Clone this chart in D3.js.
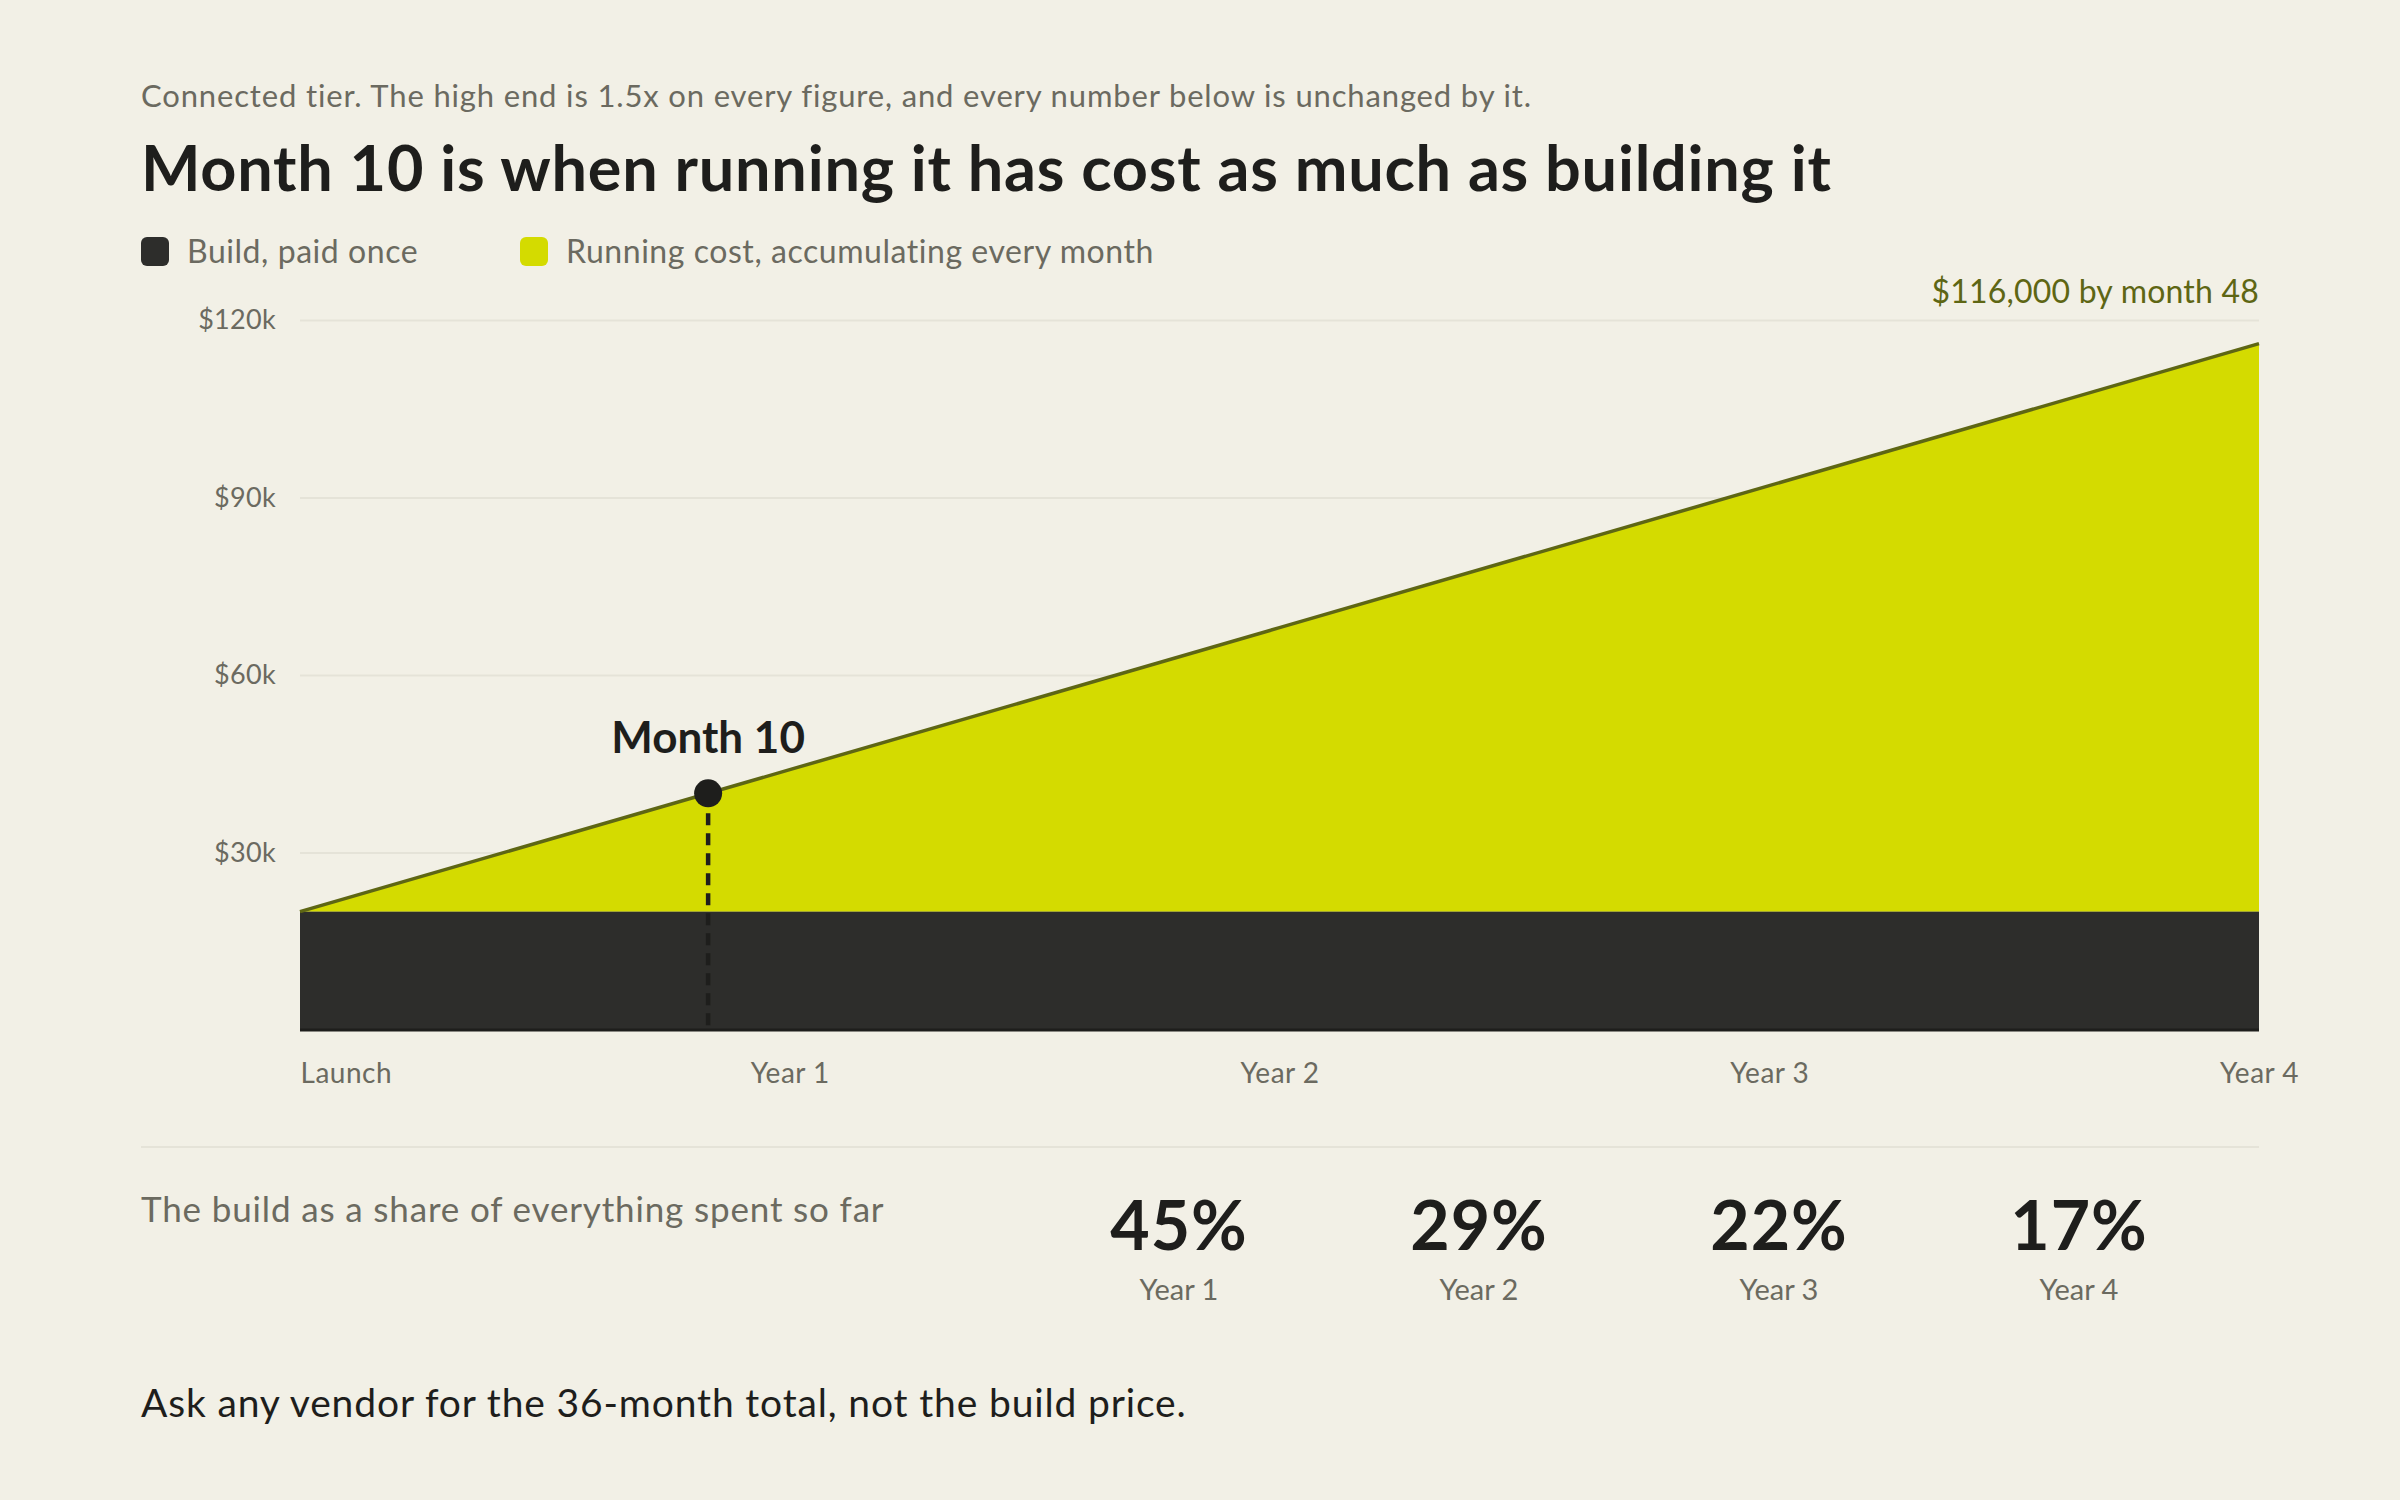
<!DOCTYPE html>
<html>
<head>
<meta charset="utf-8">
<script src="https://cdn.jsdelivr.net/npm/d3@7"></script>
<style>
  html, body { margin: 0; padding: 0; background: #f2f0e6; }
  svg { display: block; font-family: "Lato", "Noto Sans", sans-serif; }
</style>
</head>
<body>
<div id="chart"></div>
<script>
// Datos
const buildCost = 20000;
const months = [0, 12, 24, 36, 48];
const totalSpent = [20000, 44000, 68000, 92000, 116000];
const xTickLabels = ["Launch", "Year 1", "Year 2", "Year 3", "Year 4"];
const yTicks = [30000, 60000, 90000, 120000];
const crossMonth = 10, crossValue = 40000;
const shareYears = ["Year 1", "Year 2", "Year 3", "Year 4"];
const shareValues = [45, 29, 22, 17];

const width = 2400, height = 1500;
const plotLeft = 300, plotRight = 2259, plotTop = 320, plotBottom = 1030;
const textLeft = 141;

const C = {
  bg: "#f2f0e6",
  dark: "#2d2d2b",
  lime: "#d4db00",
  olive: "#5e6614",
  ink: "#1e1e1c",
  grey: "#6b6a60",
  grid: "#e5e3d8",
};

const svg = d3.select("#chart").append("svg")
  .attr("width", width).attr("height", height)
  .attr("viewBox", `0 0 ${width} ${height}`)
  .style("background", C.bg);

const x = d3.scaleLinear().domain([0, 48]).range([plotLeft, plotRight]);
const y = d3.scaleLinear().domain([0, 120000]).range([plotBottom, plotTop]);

// Textos de cabecera
svg.append("text").attr("x", textLeft).attr("y", 107)
  .attr("font-size", 31).attr("letter-spacing", 0.85).attr("fill", C.grey)
  .text("Connected tier. The high end is 1.5x on every figure, and every number below is unchanged by it.");

svg.append("text").attr("x", textLeft).attr("y", 191)
  .attr("font-size", 63).attr("letter-spacing", 0.75).attr("font-weight", 700).attr("fill", C.ink)
  .text("Month 10 is when running it has cost as much as building it");

// Leyenda
const legend = [
  { label: "Build, paid once", color: C.dark, x: textLeft },
  { label: "Running cost, accumulating every month", color: C.lime, x: 520 },
];
const lg = svg.append("g").selectAll("g").data(legend).enter().append("g")
  .attr("transform", (d) => `translate(${d.x},237)`);
lg.append("rect").attr("width", 28).attr("height", 29).attr("rx", 6)
  .attr("fill", (d) => d.color);
lg.append("text").attr("x", 46).attr("y", 26)
  .attr("font-size", 32).attr("letter-spacing", 0.55)
  .attr("fill", C.grey).text((d) => d.label);

// Rejilla + eje Y
const yAxis = svg.append("g").attr("transform", `translate(${plotLeft},0)`)
  .call(d3.axisLeft(y).tickValues(yTicks).tickSize(-(plotRight - plotLeft))
    .tickPadding(24).tickFormat((d) => `$${d / 1000}k`));
yAxis.select(".domain").remove();
yAxis.selectAll(".tick line").attr("stroke", C.grid).attr("stroke-width", 2);
yAxis.selectAll(".tick text").attr("font-size", 27).attr("letter-spacing", 0.3)
  .attr("fill", C.grey).attr("font-family", "Lato, sans-serif");

// Área de coste acumulado
const area = d3.area().x((d, i) => x(months[i])).y0(y(buildCost)).y1((d) => y(d));
svg.append("path").datum(totalSpent).attr("d", area).attr("fill", C.lime);

// Bloque de construcción
svg.append("rect").attr("x", x(0)).attr("y", y(buildCost))
  .attr("width", x(48) - x(0)).attr("height", y(0) - y(buildCost))
  .attr("fill", C.dark);

// Línea
const line = d3.line().x((d, i) => x(months[i])).y((d) => y(d));
svg.append("path").datum(totalSpent).attr("d", line)
  .attr("fill", "none").attr("stroke", C.olive).attr("stroke-width", 3.5);

// Línea base
svg.append("line").attr("x1", x(0)).attr("x2", x(48))
  .attr("y1", y(0)).attr("y2", y(0))
  .attr("stroke", C.ink).attr("stroke-width", 3);

// Marcador mes 10
svg.append("line").attr("x1", x(crossMonth)).attr("x2", x(crossMonth))
  .attr("y1", y(crossValue)).attr("y2", y(0))
  .attr("stroke", C.ink).attr("stroke-width", 4.5).attr("stroke-dasharray", "12,8");
svg.append("circle").attr("cx", x(crossMonth)).attr("cy", y(crossValue))
  .attr("r", 14).attr("fill", C.ink);
svg.append("text").attr("x", x(crossMonth)).attr("y", 753)
  .attr("text-anchor", "middle").attr("font-size", 44).attr("font-weight", 700)
  .attr("fill", C.ink).text(`Month ${crossMonth}`);

// Etiqueta final
svg.append("text").attr("x", plotRight).attr("y", 303)
  .attr("text-anchor", "end").attr("font-size", 32).attr("letter-spacing", 0.2)
  .attr("fill", C.olive)
  .text(`$${d3.format(",")(totalSpent[totalSpent.length - 1])} by month ${months[months.length - 1]}`);

// Eje X
const xAxis = svg.append("g").attr("transform", `translate(0,${plotBottom})`)
  .call(d3.axisBottom(x).tickValues(months).tickSize(0).tickPadding(33)
    .tickFormat((d, i) => xTickLabels[i]));
xAxis.select(".domain").remove();
xAxis.selectAll(".tick text").attr("font-size", 28).attr("letter-spacing", 0.5)
  .attr("fill", C.grey).attr("font-family", "Lato, sans-serif")
  .attr("text-anchor", (d, i) => (i === 0 ? "start" : "middle"));

// Separador
svg.append("line").attr("x1", textLeft).attr("x2", plotRight)
  .attr("y1", 1147).attr("y2", 1147).attr("stroke", C.grid).attr("stroke-width", 2);

svg.append("text").attr("x", textLeft).attr("y", 1222)
  .attr("font-size", 35).attr("letter-spacing", 0.85).attr("fill", C.grey)
  .text("The build as a share of everything spent so far");

// Cuotas
const sx = d3.scalePoint().domain(shareYears).range([1179, 2079]);
const sg = svg.append("g").selectAll("g").data(shareYears).enter().append("g")
  .attr("transform", (d) => `translate(${sx(d)},0)`);
sg.append("text").attr("y", 1250).attr("text-anchor", "middle")
  .attr("font-size", 68).attr("letter-spacing", 1).attr("font-weight", 700)
  .attr("fill", C.ink).text((d, i) => `${shareValues[i]}%`);
sg.append("text").attr("y", 1300).attr("text-anchor", "middle")
  .attr("font-size", 29).attr("fill", C.grey).text((d) => d);

// Pie
svg.append("text").attr("x", textLeft).attr("y", 1417)
  .attr("font-size", 39).attr("letter-spacing", 0.85).attr("fill", C.ink)
  .text("Ask any vendor for the 36-month total, not the build price.");
</script>
</body>
</html>
